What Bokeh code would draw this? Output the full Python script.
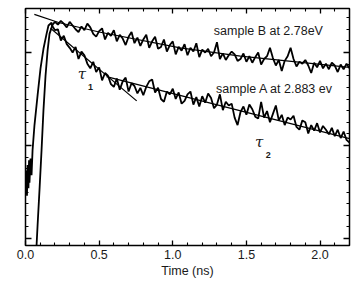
import math
from bokeh.plotting import figure
from bokeh.models import LinearAxis, FixedTicker, Label, Range1d
from bokeh.embed import file_html
from bokeh.resources import INLINE

# ---------------- data ----------------
x_ticks = [0.0, 0.5, 1.0, 1.5, 2.0]
x_tick_labels = {0.0: "0.0", 0.5: "0.5", 1.0: "1.0", 1.5: "1.5", 2.0: "2.0"}
x_minor = [0.1, 0.2, 0.3, 0.4, 0.6, 0.7, 0.8, 0.9, 1.1, 1.2, 1.3, 1.4,
           1.6, 1.7, 1.8, 1.9, 2.1]
y_ticks = [0.0, 1.0, 2.0]
y_minor = [0.125, 0.25, 0.375, 0.5, 0.625, 0.75, 0.875, 1.125, 1.25,
           1.375, 1.5, 1.625, 1.75, 1.875, 2.125, 2.25, 2.375]

# sample A: pre-rise noise, rise, decay
a_rise_x = [0.000, 0.007, 0.010, 0.014, 0.020, 0.024, 0.027, 0.034, 0.041,
            0.048, 0.061, 0.082, 0.102, 0.122, 0.143, 0.156, 0.177]
a_rise_y = [0.52, 0.73, 0.46, 0.79, 0.54, 0.84, 0.60, 0.86, 0.68,
            0.95, 1.22, 1.54, 1.83, 2.04, 2.20, 2.29, 2.32]
a_decay_y = [2.29, 2.24, 2.25, 2.13, 2.18, 2.09, 2.05, 2.00, 2.06, 1.93,
             2.01, 1.97, 1.88, 1.83, 1.90, 1.79, 1.84, 1.70, 1.78, 1.75,
             1.66, 1.63, 1.72, 1.60, 1.69, 1.73, 1.58, 1.67, 1.64, 1.56,
             1.62, 1.54, 1.63, 1.69, 1.71, 1.57, 1.62, 1.50, 1.47, 1.58,
             1.55, 1.61, 1.50, 1.57, 1.45, 1.48, 1.55, 1.58, 1.44, 1.52,
             1.42, 1.53, 1.46, 1.56, 1.51, 1.40, 1.44, 1.55, 1.38, 1.47,
             1.43, 1.45, 1.30, 1.22, 1.36, 1.42, 1.33, 1.44, 1.39, 1.31,
             1.29, 1.47, 1.30, 1.37, 1.25, 1.34, 1.43, 1.27, 1.33, 1.22,
             1.30, 1.28, 1.32, 1.20, 1.17, 1.27, 1.25, 1.13, 1.22, 1.16,
             1.24, 1.14, 1.21, 1.17, 1.12, 1.19, 1.10, 1.17, 1.08, 1.15,
             1.06, 1.03]
a_decay_x = [round(0.18 + 0.02 * i, 2) for i in range(len(a_decay_y))]

# sample B: rise, decay
b_rise_x = [0.075, 0.082, 0.095, 0.109, 0.122, 0.136, 0.150, 0.163, 0.184]
b_rise_y = [-0.075, 0.14, 0.52, 0.95, 1.38, 1.75, 2.02, 2.20, 2.30]
b_decay_y = [2.33, 2.30, 2.34, 2.31, 2.27, 2.33, 2.29, 2.25, 2.22, 2.28,
             2.24, 2.31, 2.27, 2.20, 2.17, 2.23, 2.26, 2.14, 2.21, 2.18,
             2.24, 2.12, 2.19, 2.15, 2.08, 2.17, 2.22, 2.10, 2.16, 2.07,
             2.14, 2.19, 2.05, 2.12, 2.17, 2.04, 2.06, 2.14, 2.01, 2.08,
             2.12, 1.98, 2.06, 2.02, 2.09, 1.97, 2.05, 2.01, 2.10, 1.95,
             2.03, 2.00, 2.04, 1.96, 2.00, 2.11, 1.93, 1.99, 1.92, 1.97,
             2.01, 1.98, 1.91, 1.93, 1.99, 1.90, 1.96, 1.89, 1.95, 2.00,
             1.87, 1.93, 1.96, 2.05, 1.94, 1.86, 1.92, 1.80, 1.91, 1.96,
             2.05, 1.93, 1.85, 1.90, 1.88, 1.92, 1.86, 1.78, 1.89, 1.84,
             1.91, 1.83, 1.88, 1.82, 1.89, 1.86, 1.79, 1.87, 1.82, 1.88,
             1.83]
b_decay_x = [round(0.20 + 0.02 * i, 2) for i in range(len(b_decay_y))]

# fits
fit_b_x = [0.06, 0.23, 0.50, 1.05, 1.46, 2.20]
fit_b_y = [2.41, 2.32, 2.22, 2.05, 1.96, 1.84]
fit_t1_x = [0.17, 0.755]
fit_t1_y = [2.26, 1.48]
fit_t2_x = [0.55, 2.20]
fit_t2_y = [1.74, 1.074]

FONT = "Liberation Sans"
TXT = "#1a1a1a"

p = figure(width=355, height=281, x_range=Range1d(0, 2.2),
           y_range=Range1d(-0.075, 2.473), output_backend="svg",
           toolbar_location=None, x_axis_type=None, y_axis_type=None,
           min_border_left=25, min_border_right=6, min_border_top=8,
           min_border_bottom=36)
p.outline_line_color = "black"
p.outline_line_width = 1.5
p.background_fill_color = "white"
p.border_fill_color = "white"

def make_axis(ticks, minor, show_labels, major_len, minor_len):
    ax = LinearAxis(ticker=FixedTicker(ticks=ticks, minor_ticks=minor))
    ax.axis_line_color = None
    ax.major_tick_in = major_len
    ax.major_tick_out = 0
    ax.minor_tick_in = minor_len
    ax.minor_tick_out = 0
    ax.major_tick_line_color = "black"
    ax.minor_tick_line_color = "black"
    ax.major_tick_line_width = 1.3
    ax.minor_tick_line_width = 1.1
    if not show_labels:
        ax.major_label_overrides = {t: "" for t in ticks}
        ax.major_label_text_font_size = "1px"
        ax.major_label_standoff = 0
    return ax

xb = make_axis(x_ticks, x_minor, True, 5, 3)
xb.major_label_overrides = x_tick_labels
xb.major_label_text_font = FONT
xb.major_label_text_font_size = "12.5px"
xb.major_label_text_color = TXT
xb.major_label_standoff = 4
xb.axis_label = "Time (ns)"
xb.axis_label_text_font = FONT
xb.axis_label_text_font_size = "12.5px"
xb.axis_label_text_font_style = "normal"
xb.axis_label_text_color = TXT
xb.axis_label_standoff = 2
p.add_layout(xb, "below")

p.add_layout(make_axis(x_ticks, x_minor, False, 5, 3), "above")
p.add_layout(make_axis(y_ticks, y_minor, False, 6, 3), "left")
p.add_layout(make_axis(y_ticks, y_minor, False, 6, 3), "right")

# traces
p.line(a_rise_x + a_decay_x, a_rise_y + a_decay_y, color="black", line_width=1.8)
p.line(b_rise_x + b_decay_x, b_rise_y + b_decay_y, color="black", line_width=1.8)
p.line(fit_b_x, fit_b_y, color="black", line_width=1.2)
p.line(fit_t1_x, fit_t1_y, color="black", line_width=1.2)
p.line(fit_t2_x, fit_t2_y, color="black", line_width=1.2)

def lab(x, y, t, size="12.5px", font=FONT, style="normal", **kw):
    l = Label(x=x, y=y, text=t, text_font=font, text_font_size=size,
              text_font_style=style, text_color=TXT, **kw)
    p.add_layout(l)

lab(1.279, 2.161, "sample B at 2.78eV")
lab(1.293, 1.527, "sample A at 2.883 ev")
lab(0.354, 1.677, "τ", size="15px", font="DejaVu Serif", style="italic")
lab(0.425, 1.602, "1", size="9px", style="bold")
lab(1.558, 0.946, "τ", size="15px", font="DejaVu Serif", style="italic")
lab(1.632, 0.871, "2", size="9px", style="bold")
lab(-0.109, 1.118, "Intensity (a.u.)", angle=math.pi / 2,
    text_align="center", text_baseline="middle")

open("out.html", "w").write(file_html(p, INLINE))
